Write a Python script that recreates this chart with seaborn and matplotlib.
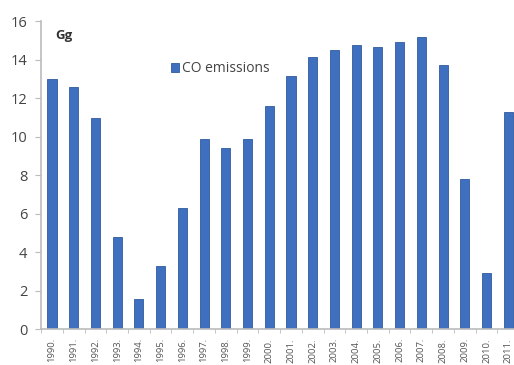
import matplotlib
matplotlib.use("Agg")
import matplotlib.pyplot as plt
import seaborn as sns
import pandas as pd

years = ["1990.", "1991.", "1992.", "1993.", "1994.", "1995.", "1996.", "1997.",
         "1998.", "1999.", "2000.", "2001.", "2002.", "2003.", "2004.", "2005.",
         "2006.", "2007.", "2008.", "2009.", "2010.", "2011."]
co_emissions = [13.0, 12.6, 10.95, 4.78, 1.56, 3.27, 6.29, 9.87, 9.4, 9.87, 11.6,
                13.15, 14.13, 14.49, 14.75, 14.65, 14.9, 15.17, 13.7, 7.8, 2.9, 11.3]
yticks = [0, 2, 4, 6, 8, 10, 12, 14, 16]

df = pd.DataFrame({"year": years, "value": co_emissions})

sns.set_style("white")
plt.rcParams['font.family'] = ['Open Sans', 'DejaVu Sans']

fig = plt.figure(figsize=(5.14, 3.65), dpi=100)
ax = fig.add_axes([0.08, 0.0986, 0.93, 0.8434])

sns.barplot(data=df, x="year", y="value", color="#3F6FBF", width=0.42,
            saturation=1, ax=ax, edgecolor="#2F5A9E", linewidth=0.6,
            label="CO emissions")

ax.set_ylim(0, 16)
ax.set_xlim(-0.5, 21.3)
ax.set_yticks(yticks)
ax.set_yticklabels([str(t) for t in yticks], fontsize=10.5, color="#444444")
ax.set_xticks(range(len(years)))
ax.set_xticklabels(years, rotation=90, fontsize=6.8, color="#555555")
ax.set_xlabel("")
ax.set_ylabel("")

for s in ["top", "right"]:
    ax.spines[s].set_visible(False)
for s in ["left", "bottom"]:
    ax.spines[s].set_color("#BBBBBB")
    ax.spines[s].set_linewidth(1.2)

ax.tick_params(axis="y", which="both", left=True, length=4, color="#BBBBBB", pad=6)
ax.tick_params(axis="x", which="both", bottom=False, pad=3)
ax.set_xticks([i + 0.5 for i in range(-1, len(years))], minor=True)
ax.tick_params(axis="x", which="minor", bottom=True, length=3, color="#BBBBBB")

ax.text(0.03, 0.955, "Gg", transform=ax.transAxes, fontsize=9.5,
        fontweight="bold", color="#333333", va="center", ha="left")

leg = ax.legend(loc="upper left", bbox_to_anchor=(0.245, 0.91), frameon=False,
                fontsize=10, handlelength=0.6, handleheight=0.6,
                handletextpad=0.2, labelcolor="#444444")

fig.savefig("out.png", dpi=100)
